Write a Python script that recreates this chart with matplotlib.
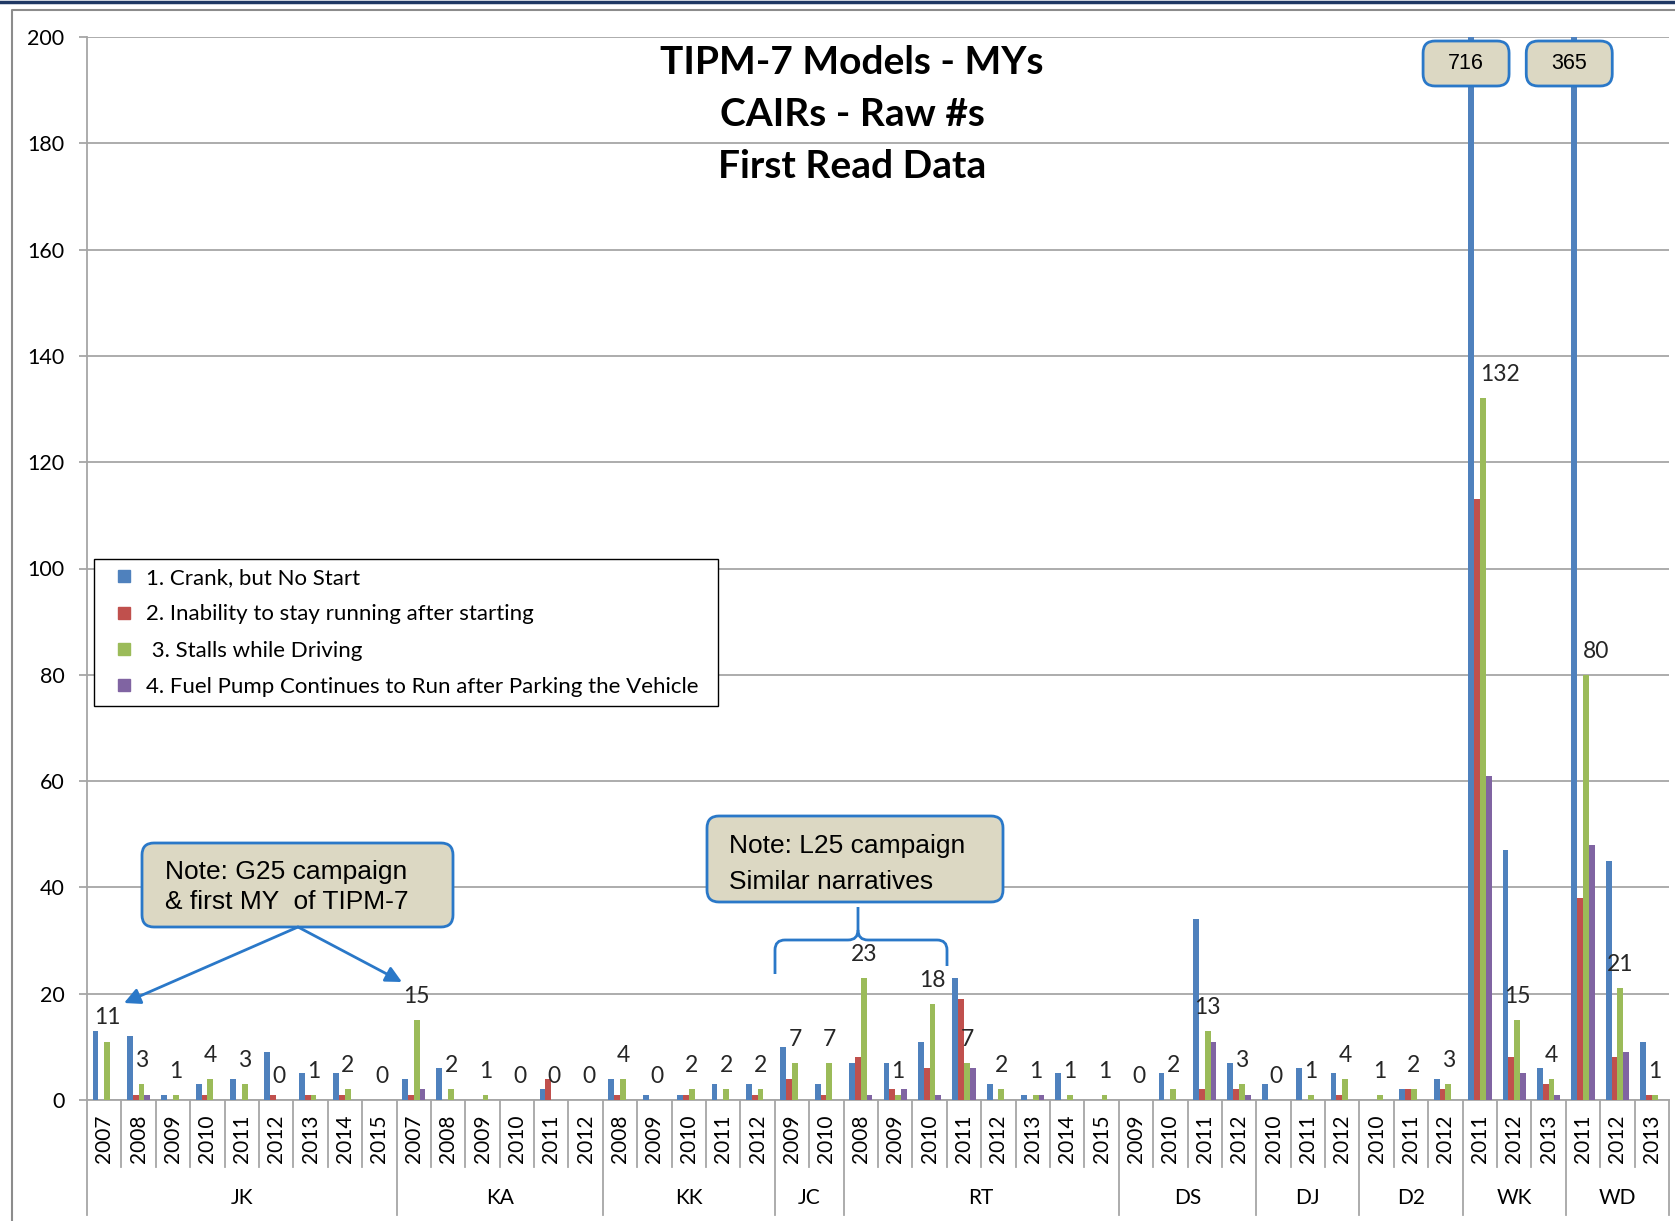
import numpy as np
import matplotlib.pyplot as plt
import matplotlib.transforms as mtransforms
from matplotlib.patches import FancyBboxPatch, FancyArrowPatch, PathPatch
from matplotlib.path import Path
from matplotlib.lines import Line2D

plt.rcParams['font.family'] = ['Lato', 'DejaVu Sans']

# ----------------------------------------------------------------- data
groups = ["JK", "KA", "KK", "JC", "RT", "DS", "DJ", "D2", "WK", "WD"]
group_years = [
    ["2007", "2008", "2009", "2010", "2011", "2012", "2013", "2014", "2015"],
    ["2007", "2008", "2009", "2010", "2011", "2012"],
    ["2008", "2009", "2010", "2011", "2012"],
    ["2009", "2010"],
    ["2008", "2009", "2010", "2011", "2012", "2013", "2014", "2015"],
    ["2009", "2010", "2011", "2012"],
    ["2010", "2011", "2012"],
    ["2010", "2011", "2012"],
    ["2011", "2012", "2013"],
    ["2011", "2012", "2013"],
]

#            JK                              KA                  KK               JC       RT                              DS             DJ         D2         WK             WD
crank      = [13, 12, 1, 3, 4, 9, 5, 5, 0,   4, 6, 0, 0, 2, 0,   4, 1, 1, 3, 3,   10, 3,   7, 7, 11, 23, 3, 1, 5, 0,     0, 5, 34, 7,   3, 6, 5,   0, 2, 4,   716, 47, 6,    365, 45, 11]
inability  = [0, 1, 0, 1, 0, 1, 1, 1, 0,     1, 0, 0, 0, 4, 0,   1, 0, 1, 0, 1,   4, 1,    8, 2, 6, 19, 0, 0, 0, 0,      0, 0, 2, 2,    0, 0, 1,   0, 2, 2,   113, 8, 3,     38, 8, 1]
stalls     = [11, 3, 1, 4, 3, 0, 1, 2, 0,    15, 2, 1, 0, 0, 0,  4, 0, 2, 2, 2,   7, 7,    23, 1, 18, 7, 2, 1, 1, 1,     0, 2, 13, 3,   0, 1, 4,   1, 2, 3,   132, 15, 4,    80, 21, 1]
fuel_pump  = [0, 1, 0, 0, 0, 0, 0, 0, 0,     2, 0, 0, 0, 0, 0,   0, 0, 0, 0, 0,   0, 0,    1, 2, 1, 6, 0, 1, 0, 0,       0, 0, 11, 1,   0, 0, 0,   0, 0, 0,   61, 5, 1,      48, 9, 0]

series_names = ["1. Crank, but No Start",
                "2. Inability to stay running after starting",
                " 3. Stalls while Driving",
                "4. Fuel Pump Continues to Run after Parking the Vehicle"]
series_colors = ["#4F81BD", "#C0504D", "#9BBB59", "#8064A2"]

title_lines = ["TIPM-7 Models - MYs", "CAIRs - Raw #s", "First Read Data"]

# ----------------------------------------------------------------- layout
W_PX, H_PX = 1675, 1221
GRID = "#A6A6A6"
NOTE_FILL = "#DCD8C3"
NOTE_EDGE = "#2A78C8"
Y_TOP = 200


def px(x, y):
    """image pixel (top-left origin) -> inches for fig.dpi_scale_trans"""
    return x / 100.0, (H_PX - y) / 100.0


fig = plt.figure(figsize=(W_PX / 100, H_PX / 100), dpi=100)
ax = fig.add_axes([87 / W_PX, (H_PX - 1100) / H_PX,
                   (1669 - 87) / W_PX, (1100 - 37) / H_PX])

years = [y for ys in group_years for y in ys]
n = len(years)
x = np.arange(n)
bw = 0.17

all_series = [crank, inability, stalls, fuel_pump]
for k, (vals, col, lab) in enumerate(zip(all_series, series_colors, series_names)):
    ax.bar(x + (k - 1.5) * bw, vals, bw, color=col, label=lab, zorder=3)

ax.set_xlim(-0.5, n - 0.5)
ax.set_ylim(0, Y_TOP)
ax.set_yticks(np.arange(0, Y_TOP + 1, 20))
ax.yaxis.grid(True, color=GRID, lw=1.3)
ax.set_axisbelow(True)
for s in ["top", "right"]:
    ax.spines[s].set_visible(False)
for s in ["left", "bottom"]:
    ax.spines[s].set_color(GRID)
    ax.spines[s].set_linewidth(1.3)
ax.tick_params(axis="y", length=5.8, width=1.3, color=GRID, pad=10.5, labelsize=15.5)
ax.set_xticks(x)
ax.set_xticklabels(years, rotation=90)
ax.tick_params(axis="x", length=0, pad=10.5, labelsize=15)

# category separators and group names below the axis
trans = mtransforms.blended_transform_factory(ax.transData, ax.transAxes)
starts = np.cumsum([0] + [len(g) for g in group_years])
for b in range(0, n + 1):
    pos = b - 0.5
    low = -0.108 if b in starts else -0.063
    ax.plot([pos, pos], [0, low], transform=trans, clip_on=False,
            color=GRID, lw=1.3, zorder=1)
for gi, name in enumerate(groups):
    cx = (starts[gi] + starts[gi + 1] - 1) / 2
    ax.text(cx, -0.092, name, transform=trans, ha="center", va="center", fontsize=15)

# data labels (values of series 3); moved aside where the blue bar is off-scale
for i, v in enumerate(stalls):
    if crank[i] > Y_TOP:
        ax.annotate(str(v), (x[i], v), xytext=(0, 17),
                    textcoords="offset points", ha="left", va="center",
                    fontsize=16.5, color="#262626")
    else:
        ax.annotate(str(v), (x[i] + 0.5 * bw, v), xytext=(0, 17),
                    textcoords="offset points", ha="center", va="center",
                    fontsize=16.5, color="#262626")

# legend
handles = [Line2D([], [], marker="s", ls="none", markersize=8.5,
                  markerfacecolor=c, markeredgecolor=c) for c in series_colors]
leg = ax.legend(handles, series_names, loc="upper left",
                bbox_to_anchor=(*px(94, 706), 6.24, 1.47),
                bbox_transform=fig.dpi_scale_trans, mode="expand",
                fontsize=16, frameon=True, fancybox=False, edgecolor="black",
                framealpha=1, borderpad=0.4, labelspacing=0.74,
                handlelength=1.9, handletextpad=0.05, borderaxespad=0)
leg.get_frame().set_linewidth(1.0)

# title
for line, ty in zip(title_lines, [62, 114, 167]):
    fig.text(*px(852, ty), line, transform=fig.dpi_scale_trans, ha="center",
             va="center", fontsize=28, fontweight="bold")


def note_box(x0, y0, x1, y1):
    bx, by = px(x0, y1)
    fig.add_artist(FancyBboxPatch((bx, by), (x1 - x0) / 100, (y1 - y0) / 100,
                                  boxstyle="round,pad=0,rounding_size=0.12",
                                  transform=fig.dpi_scale_trans, fc=NOTE_FILL,
                                  ec=NOTE_EDGE, lw=2, zorder=6))


# boxes with the off-scale values on top of the clipped bars
for i, v in enumerate(crank):
    if v > Y_TOP:
        bx = ax.transData.transform((x[i] - 1.5 * bw, 0))[0] - 5
        note_box(bx - 43, 41, bx + 43, 86)
        fig.text(*px(bx, 63.5), str(v), transform=fig.dpi_scale_trans,
                 ha="center", va="center", fontsize=15.5,
                 family="Liberation Sans", zorder=7)

# G25 note with arrows
note_box(142, 843, 453, 927)
for txt, ty in [("Note: G25 campaign", 872), ("& first MY  of TIPM-7", 902)]:
    fig.text(*px(165, ty), txt, transform=fig.dpi_scale_trans, ha="left",
             va="center", fontsize=19, family="Liberation Sans", zorder=7)
for tip in [(124, 1003), (402, 982)]:
    fig.add_artist(FancyArrowPatch(px(298, 927), px(*tip), arrowstyle="-|>",
                                   mutation_scale=24, lw=2, color=NOTE_EDGE,
                                   shrinkA=0, shrinkB=0,
                                   transform=fig.dpi_scale_trans, zorder=6))

# L25 note with brace
note_box(707, 816, 1003, 902)
for txt, ty in [("Note: L25 campaign", 846), ("Similar narratives", 882)]:
    fig.text(*px(729, ty), txt, transform=fig.dpi_scale_trans, ha="left",
             va="center", fontsize=19, family="Liberation Sans", zorder=7)
brace_pts = [
    [(775, 974), (775, 950), (775, 940), (785, 940), (848, 940), (858, 940), (858, 930), (858, 907)],
    [(947, 966), (947, 950), (947, 940), (937, 940), (868, 940), (858, 940), (858, 930)],
]
codes_l = [Path.MOVETO, Path.LINETO, Path.CURVE3, Path.CURVE3, Path.LINETO,
           Path.CURVE3, Path.CURVE3, Path.LINETO]
for pts in brace_pts:
    path = Path([px(*p) for p in pts], codes_l[:len(pts)])
    fig.add_artist(PathPatch(path, fc="none", ec=NOTE_EDGE, lw=2,
                             transform=fig.dpi_scale_trans, zorder=6))

# outer frame and top band
fig.add_artist(Line2D([12 / W_PX, 12 / W_PX, 1], [0, 1 - 10 / H_PX, 1 - 10 / H_PX],
                      transform=fig.transFigure, color="#8C8C8C", lw=1.5))
fig.add_artist(Line2D([0, 1], [1 - 1.5 / H_PX, 1 - 1.5 / H_PX],
                      transform=fig.transFigure, color="#1F3864", lw=2.5))

fig.savefig("out.png", dpi=100)
